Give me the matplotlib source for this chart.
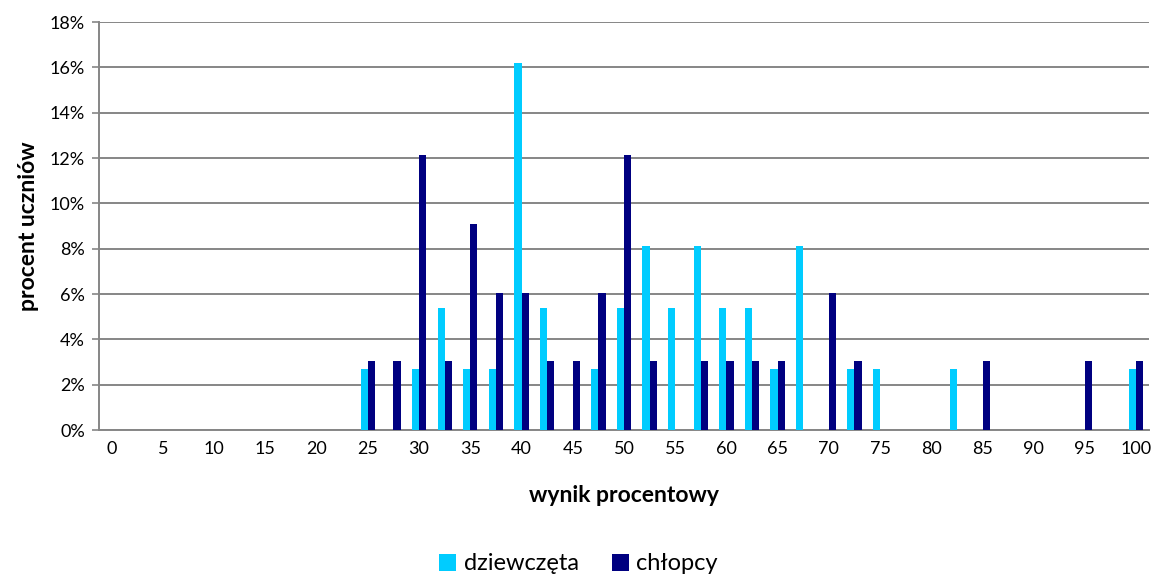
import matplotlib
matplotlib.use("Agg")
import matplotlib.pyplot as plt
import numpy as np
from matplotlib.ticker import FuncFormatter, MultipleLocator

plt.rcParams['font.family'] = ['Lato', 'DejaVu Sans']

# categories: score in percent, step 2.5
categories = [0, 2.5, 5, 7.5, 10, 12.5, 15, 17.5, 20, 22.5, 25, 27.5, 30, 32.5, 35, 37.5,
              40, 42.5, 45, 47.5, 50, 52.5, 55, 57.5, 60, 62.5, 65, 67.5, 70, 72.5, 75,
              77.5, 80, 82.5, 85, 87.5, 90, 92.5, 95, 97.5, 100]
tick_labels = ["0", "5", "10", "15", "20", "25", "30", "35", "40", "45", "50",
               "55", "60", "65", "70", "75", "80", "85", "90", "95", "100"]

girls = {25: 2.7, 30: 2.7, 32.5: 5.4, 35: 2.7, 37.5: 2.7, 40: 16.2, 42.5: 5.4,
         47.5: 2.7, 50: 5.4, 52.5: 8.1, 55: 5.4, 57.5: 8.1, 60: 5.4, 62.5: 5.4,
         65: 2.7, 67.5: 8.1, 72.5: 2.7, 75: 2.7, 82.5: 2.7, 100: 2.7}
boys = {25: 3.03, 27.5: 3.03, 30: 12.12, 32.5: 3.03, 35: 9.09, 37.5: 6.06,
        40: 6.06, 42.5: 3.03, 45: 3.03, 47.5: 6.06, 50: 12.12, 52.5: 3.03,
        57.5: 3.03, 60: 3.03, 62.5: 3.03, 65: 3.03, 70: 6.06, 72.5: 3.03,
        85: 3.03, 95: 3.03, 100: 3.03}

girls_vals = [girls.get(c, 0) for c in categories]
boys_vals = [boys.get(c, 0) for c in categories]

fig = plt.figure(figsize=(11.52, 5.79), dpi=100)
ax = fig.add_axes([0.0859, 0.2573, 0.9115, 0.7047])

x = np.arange(len(categories))
w = 0.28
ax.bar(x - w/2, girls_vals, width=w, color='#00CCFF', label='dziewczęta', zorder=3)
ax.bar(x + w/2, boys_vals, width=w, color='#000080', label='chłopcy', zorder=3)

ax.set_xlim(-0.5, len(categories) - 0.5)
ax.set_ylim(0, 18)
ax.yaxis.set_major_locator(MultipleLocator(2))
ax.yaxis.set_major_formatter(FuncFormatter(lambda v, p: f"{v:.0f}%"))
ax.set_xticks(x[::2])
ax.set_xticklabels(tick_labels)

ax.grid(axis='y', color='#868686', linewidth=1.4, zorder=0)
for s in ['top', 'right']:
    ax.spines[s].set_visible(False)
for s in ['left', 'bottom']:
    ax.spines[s].set_color('#868686')
    ax.spines[s].set_linewidth(1.4)
ax.tick_params(axis='y', length=5, width=1.2, color='#868686', labelsize=13, pad=5)
ax.tick_params(axis='x', length=0, labelsize=13, pad=8)

ax.set_ylabel('procent uczniów', fontsize=16.5, fontweight='bold', labelpad=8)
ax.set_xlabel('wynik procentowy', fontsize=16.5, fontweight='bold', labelpad=20)

fig.legend(loc='center', bbox_to_anchor=(0.502, 0.026), ncol=2, frameon=False,
           fontsize=17, handlelength=0.75, handleheight=0.75, handletextpad=0.3,
           columnspacing=1.4)

fig.savefig('out.png', dpi=100)
